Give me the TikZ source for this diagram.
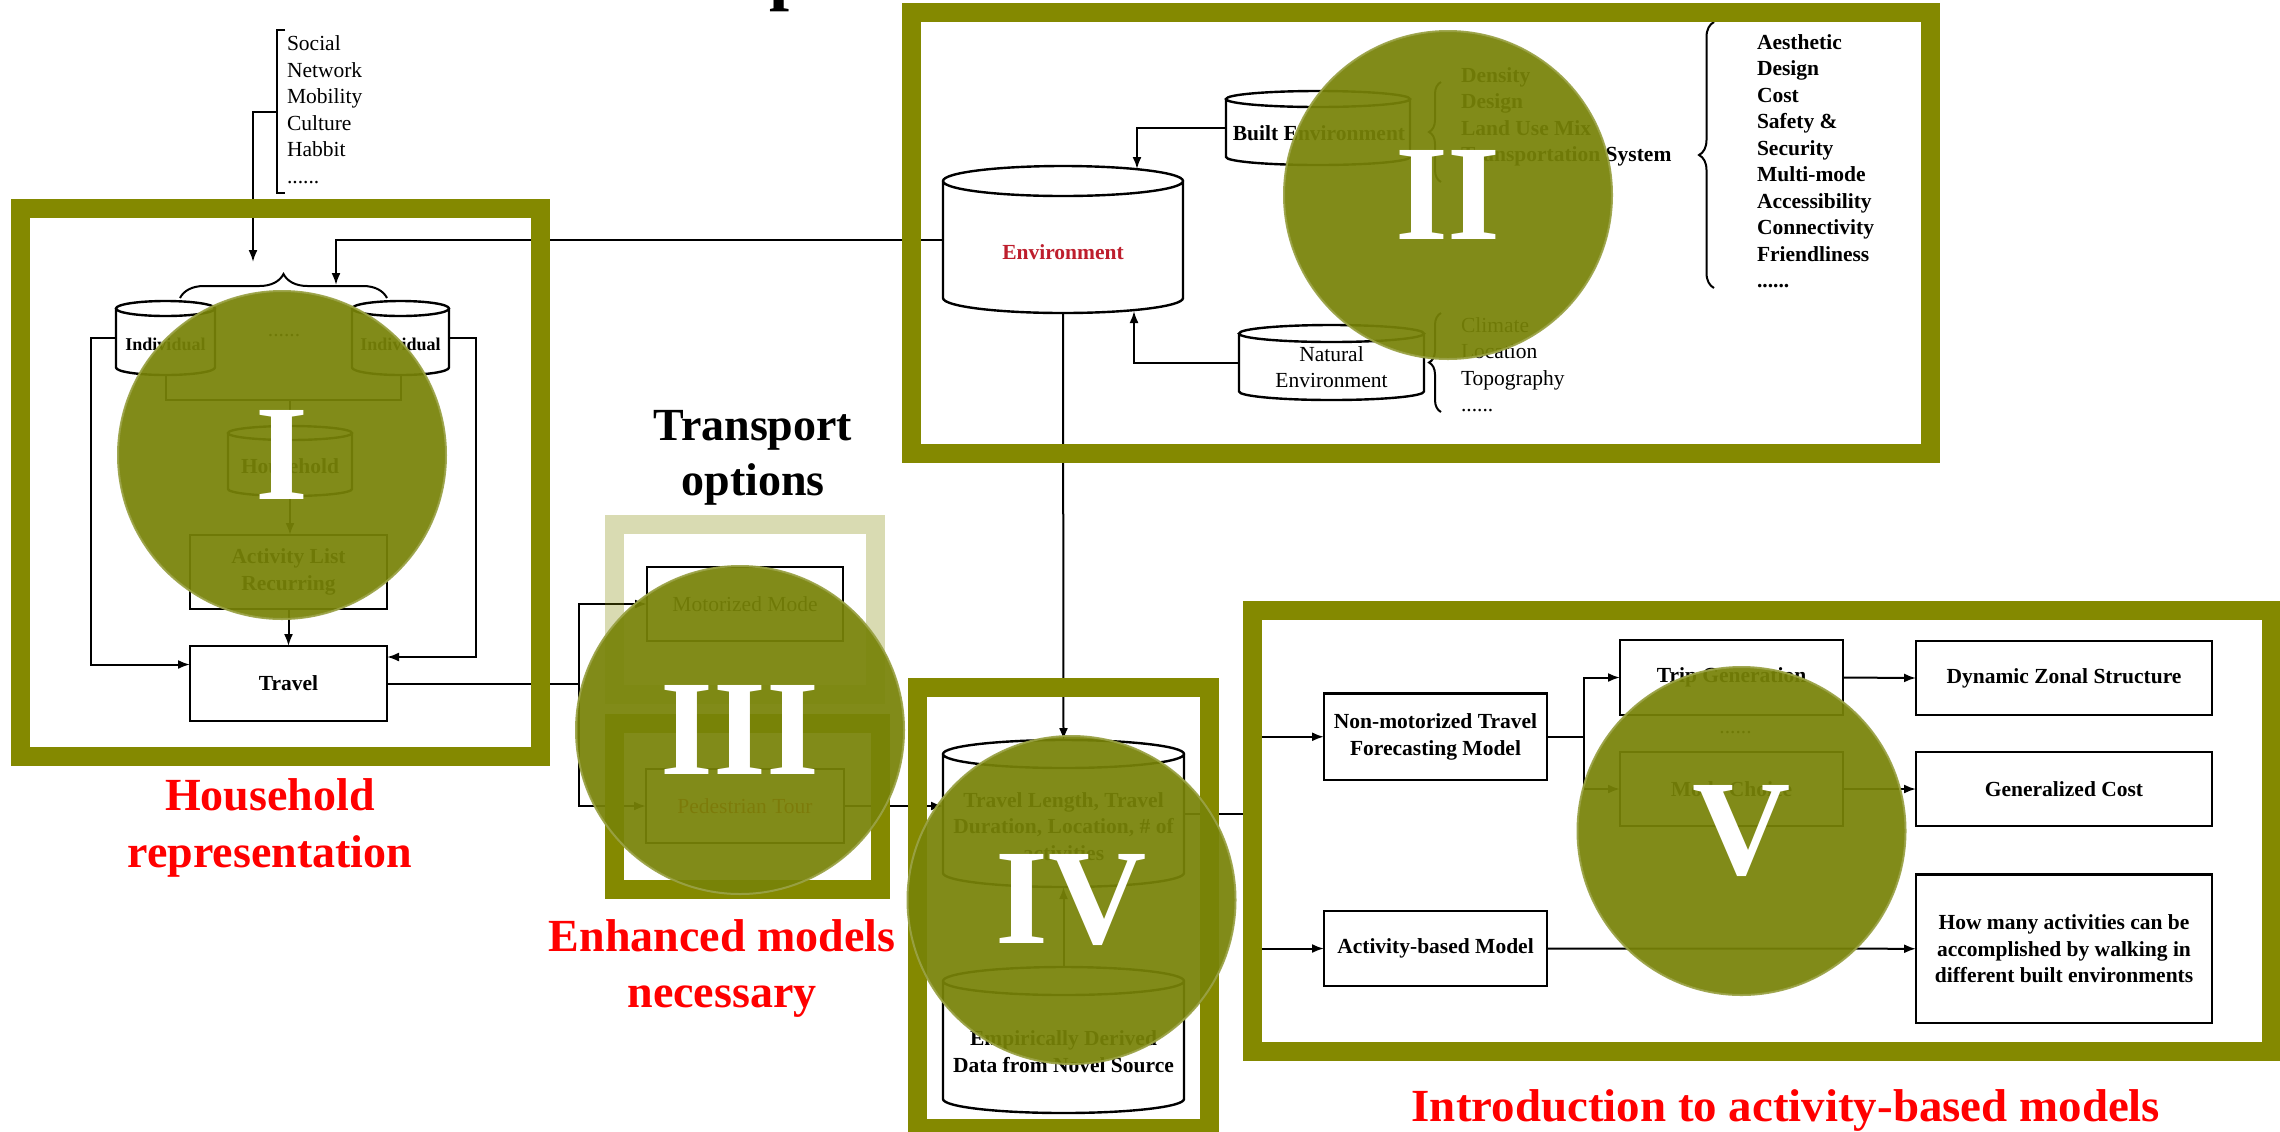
\documentclass[tikz,border=0pt]{standalone}
\usepackage{fontspec}
\setmainfont{Liberation Serif}
\usetikzlibrary{arrows.meta,calc,decorations.pathreplacing}
\definecolor{oliveF}{RGB}{132,137,0}
\definecolor{oliveC}{RGB}{120,131,8}
\definecolor{envred}{RGB}{190,30,45}
\definecolor{labred}{RGB}{255,0,0}
\newcommand{\sixdots}{......}
\newcommand{\cylout}[2]{%
  \draw[bxline] let \p1=(#1.north west), \p2=(#1.south east), \n1={(\x2-\x1)/2} in
    (\x1,\y1-#2) -- (\x1,\y2+#2) arc[start angle=180,end angle=360,x radius=\n1,y radius=#2] -- (\x2,\y1-#2)
    (\x1+\n1,\y1-#2) ellipse [x radius=\n1,y radius=#2];
}
\begin{document}
\begin{tikzpicture}[x=0.5pt,y=-0.5pt,
  every node/.style={inner sep=0pt,outer sep=0pt},
  tb/.style={font=\fontsize{10.75}{13.25}\selectfont\bfseries,align=center},
  tr/.style={font=\fontsize{10.75}{13.25}\selectfont,align=center},
  ti/.style={font=\fontsize{9}{11}\selectfont\bfseries},
  bx/.style 2 args={draw,line width=1.2pt,minimum width=#1,minimum height=#2},
  cy/.style 2 args={minimum width=#1,minimum height=#2},
  bxline/.style={line width=1.2pt},
  conn/.style={line width=1pt},
  arr/.style={line width=1pt,-{Latex[length=6pt,width=4.5pt]}},
  brc/.style={line width=1pt,decorate},
  frm/.style={draw=oliveF,line width=9.5pt},
  frml/.style={draw=oliveF,draw opacity=0.3,line width=9.5pt},
  numc/.style={circle,minimum size=164pt,fill=oliveC,draw=oliveC!75!white,line width=1pt,opacity=0.93,text opacity=1,text=white,font=\fontsize{68}{68}\selectfont\bfseries},
  big/.style={font=\fontsize{23}{28.5}\selectfont\bfseries},
]
\useasboundingbox (0,0) rectangle (2280,1131);
\fill[white] (0,0) rectangle (2280,1131);

% ---------- title fragment
\node[font=\fontsize{36}{36}\selectfont\bfseries,anchor=base west] (ttl) at (769,-4) {p};

% ---------- Section I
\draw[bxline] (285,30) -- (277,30) -- (277,193) -- (285,193);
\foreach \t [count=\i] in {Social,Network,Mobility,Culture,Habbit,\sixdots}
  \node[tr,anchor=base west] (soc\i) at (287,{24+26.5*\i}) {\t};
\coordinate (socmid) at (277,112);
\coordinate (socin) at (253,262);
\draw[arr] (socmid) -| (socin);

\draw[brc,decoration={brace,amplitude=12pt}] (180,298) -- (387,298);
\coordinate (bracein) at (336,285);

\node[cy={49.5pt}{37pt}] (indL) at (165.5,338) {};
\node[cy={48.5pt}{37pt}] (indR) at (400.5,338) {};
\cylout{indL}{3.75pt}
\cylout{indR}{3.75pt}
\node[ti] (indLt) at (165.5,344) {Individual};
\node[ti] (indRt) at (400.5,344) {Individual};
\node[tr] (inddots) at (284,336) {\sixdots};

\node[cy={62pt}{35pt}] (hh) at (290,461) {};
\cylout{hh}{3.5pt}
\node[tb] (hht) at (290,466) {Household};

\node[bx={98.5pt}{37pt},tb] (act) at (288.5,572) {Activity List\\Recurring};
\node[bx={98.5pt}{37.5pt},tb] (travel) at (288.5,683.5) {Travel};

\coordinate (join) at (290,400);
\draw[conn] (indL.south) |- (join) -| (indR.south);
\draw[conn] (join) -- (hh.north);
\draw[arr] (hh.south) -- (hh.south |- act.north);
\draw[arr] (act.south) -- (travel.north);
\draw[arr] (indL.west) -| ($(travel.west)+(-99,-19)$) -- ($(travel.west)+(0,-19)$);
\draw[arr] (indR.east) -| ($(travel.east)+(89,-26.5)$) -- ($(travel.east)+(0,-26.5)$);

% ---------- Section II
\node[cy={120pt}{73.5pt}] (env) at (1063,239.5) {};
\cylout{env}{7.5pt}
\node[tb,text=envred] (envt) at (1063,252) {Environment};
\node[cy={92pt}{37pt}] (built) at (1318,128) {};
\cylout{built}{4pt}
\node[tb] (builtt) at (1319,133) {Built Environment};
\node[cy={92.5pt}{37.5pt}] (nat) at (1331.5,362.5) {};
\cylout{nat}{4.25pt}
\node[tr] (natt) at (1331.5,367) {Natural\\Environment};

\coordinate (envin1) at (1137,169);
\coordinate (envin2) at (1134,311);
\draw[arr] (built.west) -| (envin1);
\draw[arr] (nat.west) -| (envin2);
\draw[arr] (env.west) -| (bracein);

\draw[brc,decoration={brace,amplitude=6pt}] (1441,182) -- (1441,82);
\draw[brc,decoration={brace,amplitude=6pt}] (1441,412) -- (1441,313);
\draw[brc,decoration={brace,amplitude=7.5pt}] (1714,288) -- (1714,22);
\foreach \t [count=\i] in {Density,Design,Land Use Mix,Transportation System}
  \node[tb,anchor=base west] (bl\i) at (1461,{55.5+26.5*\i}) {\t};
\foreach \t [count=\i] in {Climate,Location,Topography,\sixdots}
  \node[tr,anchor=base west] (nl\i) at (1461,{305.5+26.5*\i}) {\t};
\foreach \t [count=\i] in {Aesthetic,Design,Cost,Safety \&,Security,Multi-mode,Accessibility,Connectivity,Friendliness,\sixdots}
  \node[tb,anchor=base west] (al\i) at (1757,{22.5+26.5*\i}) {\t};

% ---------- Section III
\node[bx={98pt}{37pt},tr] (mot) at (745,604) {Motorized Mode};
\node[bx={99pt}{37pt},tr,text=envred] (ped) at (745,806) {Pedestrian Tour};
\coordinate (split3) at (579,683.5);
\draw[conn] (travel.east) -- (split3);
\draw[arr] (split3) |- (mot.west);
\draw[arr] (split3) |- (ped.west);

% ---------- Section IV
\node[cy={120.5pt}{73.5pt}] (tl) at (1063.5,813.5) {};
\cylout{tl}{7pt}
\node[tb] (tlt) at (1063.5,826.5) {Travel Length, Travel\\Duration, Location, \# of\\activities};
\node[cy={120.5pt}{73pt}] (emp) at (1063.5,1040) {};
\cylout{emp}{7pt}
\node[tb] (empt) at (1063.5,1051.5) {Empirically Derived\\Data from Novel Source};
\draw[arr] (env.south) -- (tl.north);
\draw[arr] (emp.north) -- (tl.south);
\draw[arr] (ped.east) -- (ped.east -| tl.west);

% ---------- Section V
\node[bx={111.5pt}{43.25pt},tb] (nmt) at (1435.5,736.75) {Non-motorized Travel\\Forecasting Model};
\node[bx={111.5pt}{37.5pt},tb] (actb) at (1435.5,948.5) {Activity-based Model};
\node[bx={111.5pt}{37.5pt},tb] (trip) at (1731.5,677.5) {Trip Generation};
\node[bx={111.5pt}{37pt},tb] (mode) at (1731.5,789) {Mode Choice};
\node[tr] (vdots) at (1735.5,733) {\sixdots};
\node[bx={148pt}{37pt},tb] (dyn) at (2064,678) {Dynamic Zonal Structure};
\node[bx={148pt}{37pt},tb] (gen) at (2064,789) {Generalized Cost};
\node[bx={148pt}{74.25pt},tb] (how) at (2064,948.75) {How many activities can be\\accomplished by walking in\\different built environments};

\coordinate (split4) at (1250,813.5);
\draw[conn] (tl.east) -- (split4);
\draw[arr] (split4) |- (nmt.west);
\draw[arr] (split4) |- (actb.west);
\coordinate (split5) at (1584,736.75);
\draw[conn] (nmt.east) -- (split5);
\draw[arr] (split5) |- (trip.west);
\draw[arr] (split5) |- (mode.west);
\draw[arr] (trip.east) -- (dyn.west);
\draw[arr] (mode.east) -- (gen.west);
\draw[arr] (actb.east) -- (how.west);

% ---------- frames
\draw[frm] (20,208) rectangle (540,756);
\draw[frm] (911.5,12.5) rectangle (1930.5,453.5);
\draw[frml] (614.5,524.5) rectangle (875.5,694.5);
\draw[frm] (614.5,723.5) rectangle (880.5,889.5);
\draw[frm] (917.5,687) rectangle (1209.5,1128);
\draw[frm] (1252.5,610.5) rectangle (2271,1051.5);

% ---------- circles
\node[numc] (c1) at (282,455) {I};
\node[numc] (c2) at (1448,195) {II};
\node[numc] (c3) at (740,730) {III};
\node[numc] (c4) at (1071.5,900) {IV};
\node[numc] (c5) at (1741.5,831) {V};

% ---------- labels
\node[big,text=labred,anchor=base] (lab1a) at (270,810) {Household};
\node[big,text=labred,anchor=base] (lab1b) at (270,867) {representation};
\node[big,anchor=base] (lab3a) at (753,440) {Transport};
\node[big,anchor=base] (lab3b) at (753,495) {options};
\node[big,text=labred,anchor=base] (lab3c) at (722,951) {Enhanced models};
\node[big,text=labred,anchor=base] (lab3d) at (722,1007) {necessary};
\node[big,text=labred,anchor=base,xscale=1.02] (lab5) at (1786,1121) {Introduction to activity-based models};
\end{tikzpicture}
\end{document}
